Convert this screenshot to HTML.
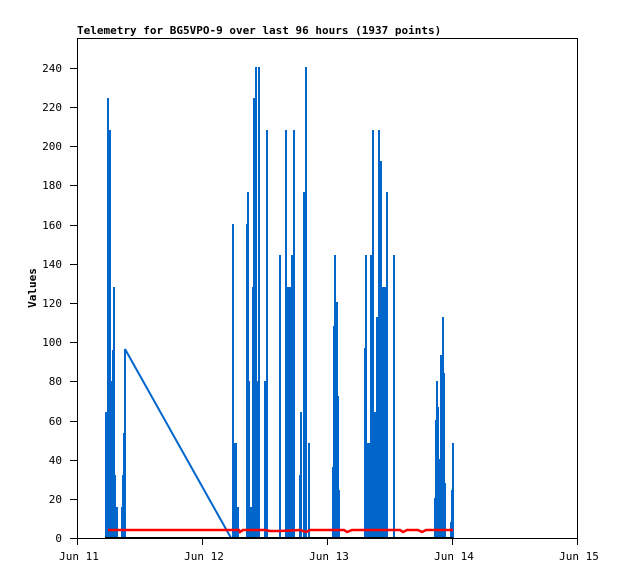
<!DOCTYPE html>
<html><head><style>body{margin:0;background:#fff}svg{display:block}text{font-family:"DejaVu Sans Mono","Liberation Mono",monospace;font-size:11px}</style></head><body>
<svg width="618" height="579" xmlns="http://www.w3.org/2000/svg">
<rect width="618" height="579" fill="#fff"/>
<text x="77" y="34" font-weight="bold" font-size="11">Telemetry for BG5VPO-9 over last 96 hours (1937 points)</text>
<rect x="77.5" y="38.5" width="500" height="500" fill="none" stroke="#000"/>
<g stroke="#000">
<line x1="70" y1="538.5" x2="77" y2="538.5"/><line x1="70" y1="499.5" x2="77" y2="499.5"/><line x1="70" y1="460.5" x2="77" y2="460.5"/><line x1="70" y1="421.5" x2="77" y2="421.5"/><line x1="70" y1="381.5" x2="77" y2="381.5"/><line x1="70" y1="342.5" x2="77" y2="342.5"/><line x1="70" y1="303.5" x2="77" y2="303.5"/><line x1="70" y1="264.5" x2="77" y2="264.5"/><line x1="70" y1="225.5" x2="77" y2="225.5"/><line x1="70" y1="185.5" x2="77" y2="185.5"/><line x1="70" y1="146.5" x2="77" y2="146.5"/><line x1="70" y1="107.5" x2="77" y2="107.5"/><line x1="70" y1="68.5" x2="77" y2="68.5"/>
<line x1="77.5" y1="538" x2="77.5" y2="545"/><line x1="202.5" y1="538" x2="202.5" y2="545"/><line x1="327.5" y1="538" x2="327.5" y2="545"/><line x1="452.5" y1="538" x2="452.5" y2="545"/><line x1="577.5" y1="538" x2="577.5" y2="545"/>
</g>
<g text-anchor="end">
<text x="62" y="542">0</text><text x="62" y="503">20</text><text x="62" y="464">40</text><text x="62" y="425">60</text><text x="62" y="385">80</text><text x="62" y="346">100</text><text x="62" y="307">120</text><text x="62" y="268">140</text><text x="62" y="229">160</text><text x="62" y="189">180</text><text x="62" y="150">200</text><text x="62" y="111">220</text><text x="62" y="72">240</text>
</g>
<g text-anchor="middle">
<text x="79" y="560">Jun 11</text><text x="204" y="560">Jun 12</text><text x="329" y="560">Jun 13</text><text x="454" y="560">Jun 14</text><text x="579" y="560">Jun 15</text>
</g>
<text x="36" y="288" text-anchor="middle" font-weight="bold" transform="rotate(-90 36 288)">Values</text>
<g fill="#0066cc">
<rect x="105" y="412" width="2" height="126"/><rect x="107" y="98" width="2" height="440"/><rect x="109" y="130" width="2" height="408"/><rect x="111" y="381" width="2" height="157"/><rect x="112" y="350" width="2" height="188"/><rect x="113" y="287" width="2" height="251"/><rect x="105" y="475" width="11" height="63"/><rect x="116" y="507" width="2" height="31"/><rect x="121" y="507" width="2" height="31"/><rect x="122" y="475" width="2" height="63"/><rect x="123" y="433" width="2" height="105"/><rect x="124" y="349" width="2" height="189"/>
<rect x="232" y="224" width="2" height="314"/><rect x="234" y="443" width="3" height="95"/><rect x="237" y="507" width="2" height="31"/>
<rect x="246" y="224" width="2" height="314"/><rect x="247" y="192" width="2" height="346"/><rect x="248" y="381" width="2" height="157"/><rect x="248" y="507" width="5" height="31"/><rect x="252" y="287" width="2" height="251"/><rect x="253" y="98" width="2" height="440"/><rect x="255" y="67" width="2" height="471"/><rect x="253" y="381" width="7" height="157"/><rect x="258" y="67" width="2" height="471"/><rect x="264" y="381" width="2" height="157"/><rect x="266" y="130" width="2" height="408"/>
<rect x="279" y="255" width="2" height="283"/><rect x="285" y="130" width="2" height="408"/><rect x="287" y="287" width="4" height="251"/><rect x="291" y="255" width="2" height="283"/><rect x="293" y="130" width="2" height="408"/>
<rect x="299" y="475" width="2" height="63"/><rect x="300" y="412" width="2" height="126"/><rect x="303" y="192" width="2" height="346"/><rect x="305" y="67" width="2" height="471"/><rect x="308" y="443" width="2" height="95"/>
<rect x="332" y="467" width="2" height="71"/><rect x="333" y="326" width="2" height="212"/><rect x="334" y="255" width="2" height="283"/><rect x="336" y="302" width="2" height="236"/><rect x="337" y="396" width="2" height="142"/><rect x="338" y="490" width="2" height="48"/>
<rect x="364" y="348" width="3" height="190"/><rect x="365" y="255" width="2" height="283"/><rect x="367" y="443" width="4" height="95"/><rect x="370" y="255" width="2" height="283"/><rect x="372" y="130" width="2" height="408"/><rect x="374" y="412" width="2" height="126"/><rect x="375" y="427" width="2" height="111"/><rect x="376" y="317" width="2" height="221"/><rect x="378" y="130" width="2" height="408"/><rect x="380" y="161" width="2" height="377"/><rect x="380" y="287" width="7" height="251"/><rect x="386" y="192" width="2" height="346"/><rect x="393" y="255" width="2" height="283"/>
<rect x="434" y="498" width="2" height="40"/><rect x="435" y="420" width="2" height="118"/><rect x="436" y="381" width="2" height="157"/><rect x="437" y="407" width="2" height="131"/><rect x="438" y="512" width="2" height="26"/><rect x="439" y="459" width="2" height="79"/><rect x="440" y="355" width="2" height="183"/><rect x="441" y="412" width="2" height="126"/><rect x="442" y="317" width="2" height="221"/><rect x="443" y="373" width="2" height="165"/><rect x="444" y="483" width="2" height="55"/><rect x="450" y="522" width="2" height="16"/><rect x="451" y="490" width="2" height="48"/><rect x="452" y="459" width="2" height="79"/><rect x="452" y="443" width="2" height="95"/>
</g>
<line x1="125" y1="349" x2="231" y2="538" stroke="#0066cc" stroke-width="2"/>
<polyline fill="none" stroke="#f00" stroke-width="2.5" points="108,530 230,530 239,530 240,532 243,530 265,530 270,531 280,531 300,530 306,532 310,530 344,530 347,532 352,530 360,530 400,530 403,532 407,530 418,530 422,532 426,530 453,530"/>
<line x1="105" y1="538" x2="453" y2="538" stroke="#000" stroke-width="2"/>
</svg>
</body></html>
